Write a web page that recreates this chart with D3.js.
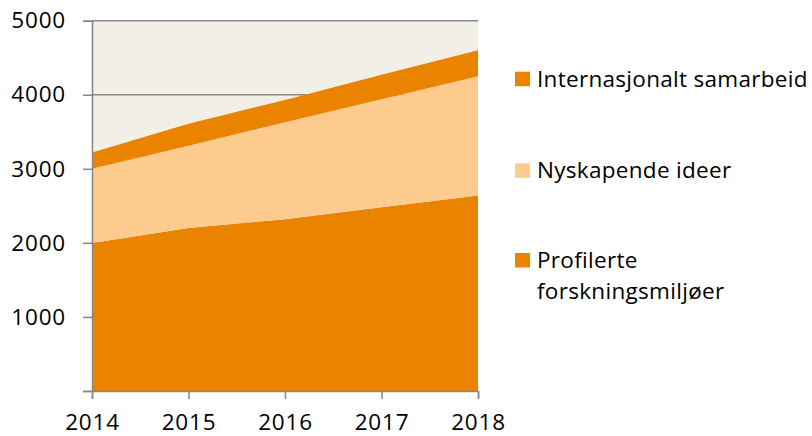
<!DOCTYPE html>
<html lang="no">
<head>
<meta charset="utf-8" />
<title>Stacked area</title>
<script src="https://d3js.org/d3.v7.min.js"></script>
<style>
  body { margin: 0; background: #fff; }
  svg text { font-family: "Open Sans", sans-serif; fill: #000; }
</style>
</head>
<body>
<div id="chart"></div>
<script>
// data
const years = [2014, 2015, 2016, 2017, 2018];
const profilerte = [2000, 2200, 2320, 2480, 2640];
const nyskapende = [1000, 1110, 1310, 1460, 1610];
const internasjonalt = [220, 300, 300, 330, 350];
const yTicks = [1000, 2000, 3000, 4000, 5000];

const seriesColors = ["#E98300", "#FDCB8E", "#E98300"];

const W = 812, H = 436;
const margin = {top: 20.7, left: 92, right: 334, bottom: 45};
const width = W - margin.left - margin.right,
      height = H - margin.top - margin.bottom;

const svg = d3.select("#chart").append("svg")
  .attr("width", W).attr("height", H);
const g = svg.append("g")
  .attr("transform", `translate(${margin.left},${margin.top})`);

const table = years.map((yr, i) => ({
  year: yr, a: profilerte[i], b: nyskapende[i], c: internasjonalt[i]
}));
const stack = d3.stack().keys(["a", "b", "c"])(table);

const x = d3.scaleLinear().domain([2014, 2018]).range([0, width]);
const y = d3.scaleLinear().domain([0, 5000]).range([height, 0]);

// plot background
g.append("rect")
  .attr("width", width).attr("height", height)
  .attr("fill", "#F2F0E6");

// gridlines
g.append("g").selectAll("line")
  .data(yTicks)
  .join("line")
    .attr("x1", 0).attr("x2", width)
    .attr("y1", d => y(d)).attr("y2", d => y(d))
    .attr("stroke", "#888").attr("stroke-width", 1.5);

// areas
const area = d3.area()
  .x(d => x(d.data.year))
  .y0(d => y(d[0]))
  .y1(d => y(d[1]));

g.append("g").selectAll("path")
  .data(stack)
  .join("path")
    .attr("d", area)
    .attr("fill", (d, i) => seriesColors[i]);

// axes
const yAxis = g.append("g")
  .call(d3.axisLeft(y).tickValues([0].concat(yTicks)).tickSize(9).tickPadding(17)
    .tickFormat(d => d === 0 ? "" : d));
const xAxis = g.append("g")
  .attr("transform", `translate(0,${height})`)
  .call(d3.axisBottom(x).tickValues(years).tickSize(8).tickPadding(15).tickFormat(d3.format("d")));

[yAxis, xAxis].forEach(ax => {
  ax.select(".domain").attr("stroke", "#868686").attr("stroke-width", 1.5);
  ax.selectAll(".tick line").attr("stroke", "#868686").attr("stroke-width", 1.5);
  ax.selectAll("text")
    .style("font-size", "22.5px")
    .style("letter-spacing", "0.8px")
    .attr("fill", "#000");
});

// legend
const legendItems = [
  {name: ["Internasjonalt samarbeid"], color: seriesColors[2], y: 71.7},
  {name: ["Nyskapende ideer"], color: seriesColors[1], y: 163.3},
  {name: ["Profilerte", "forskningsmiljøer"], color: seriesColors[0], y: 253}
];
const legend = svg.append("g");
const item = legend.selectAll("g")
  .data(legendItems)
  .join("g")
    .attr("transform", d => `translate(515,${d.y})`);
item.append("rect")
  .attr("width", 15).attr("height", 14.5)
  .attr("fill", d => d.color);
item.append("text")
  .style("font-size", "22.5px")
  .style("letter-spacing", "0.3px")
  .selectAll("tspan")
  .data(d => d.name)
  .join("tspan")
    .attr("x", 22)
    .attr("y", (d, i) => 15 + i * 31)
    .text(d => d);
</script>
</body>
</html>
